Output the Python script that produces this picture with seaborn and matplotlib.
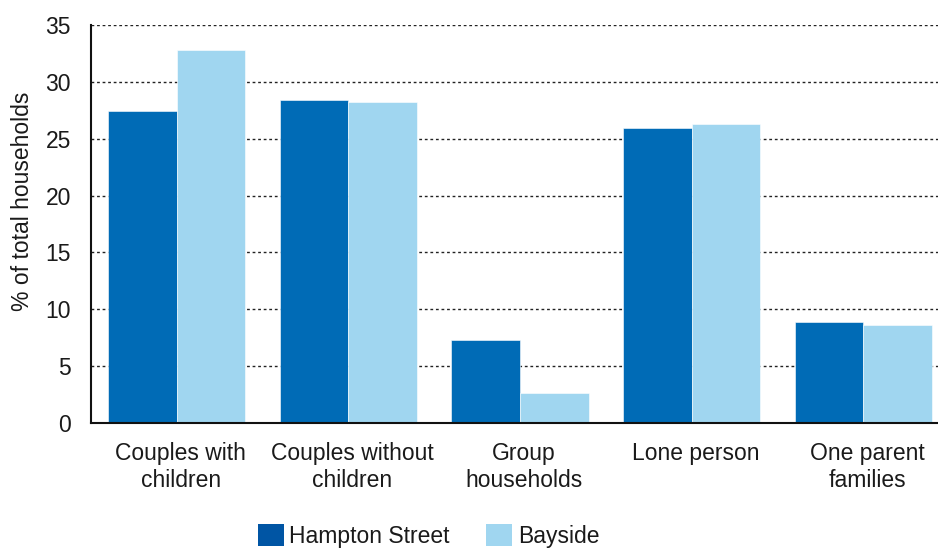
import matplotlib
matplotlib.use("Agg")
import matplotlib.pyplot as plt
import matplotlib.transforms as mtransforms
import seaborn as sns
import pandas as pd
from matplotlib.patches import Patch

categories = ["Couples with\nchildren", "Couples without\nchildren", "Group\nhouseholds",
              "Lone person", "One parent\nfamilies"]
hampton_street = [27.4, 28.4, 7.3, 25.9, 8.9]
bayside = [32.8, 28.2, 2.6, 26.3, 8.6]
series_names = ["Hampton Street", "Bayside"]
y_ticks = [0, 5, 10, 15, 20, 25, 30, 35]

df = pd.DataFrame({
    "category": categories * 2,
    "value": hampton_street + bayside,
    "series": [series_names[0]] * len(categories) + [series_names[1]] * len(categories),
})

sns.set_theme(style="white")
plt.rcParams["font.family"] = ["Liberation Sans", "DejaVu Sans"]

colors = {"Hampton Street": "#006BB6", "Bayside": "#A0D6F0"}
text_color = "#1a1a1a"
fs = 16.5

fig = plt.figure(figsize=(9.38, 5.48), dpi=100)
ax = fig.add_axes([91 / 938, 1 - 423 / 548, (949 - 91) / 938, (423 - 25) / 548])

sns.barplot(data=df, x="category", y="value", hue="series", palette=colors,
            width=0.8, ax=ax, legend=False, edgecolor="white", linewidth=0.4,
            saturation=1)

ax.set_ylim(0, 35)
ax.set_xlim(-0.5, 4.5)
ax.set_yticks(y_ticks)
ax.yaxis.grid(True, linestyle=(0, (2, 2)), color="#222222", linewidth=1.0)
ax.set_axisbelow(True)
for side in ["top", "right"]:
    ax.spines[side].set_visible(False)
for side in ["left", "bottom"]:
    ax.spines[side].set_color("#111111")
    ax.spines[side].set_linewidth(1.5)

ax.tick_params(axis="both", length=0, labelsize=fs, colors=text_color)
ax.tick_params(axis="y", pad=14.5)
ax.tick_params(axis="x", pad=14)
ax.set_xlabel("")
ax.set_ylabel("% of total households", fontsize=fs, color=text_color)
ax.yaxis.set_label_coords(-0.067, 0.556)

# nudge category labels slightly to the right
shift = mtransforms.ScaledTranslation(4 / 100, 0, fig.dpi_scale_trans)
for lbl in ax.get_xticklabels():
    lbl.set_transform(lbl.get_transform() + shift)

handles = [Patch(facecolor="#0055A4", edgecolor="none", label=series_names[0]),
           Patch(facecolor="#A0D6F0", edgecolor="none", label=series_names[1])]
fig.legend(handles=handles, loc="center", bbox_to_anchor=(0.457, 0.022), ncol=2,
           frameon=False, fontsize=fs, handlelength=1.13, handleheight=1.13,
           handletextpad=0.25, columnspacing=1.6, labelcolor=text_color,
           borderpad=0, borderaxespad=0)

fig.savefig("out.png", dpi=100)
